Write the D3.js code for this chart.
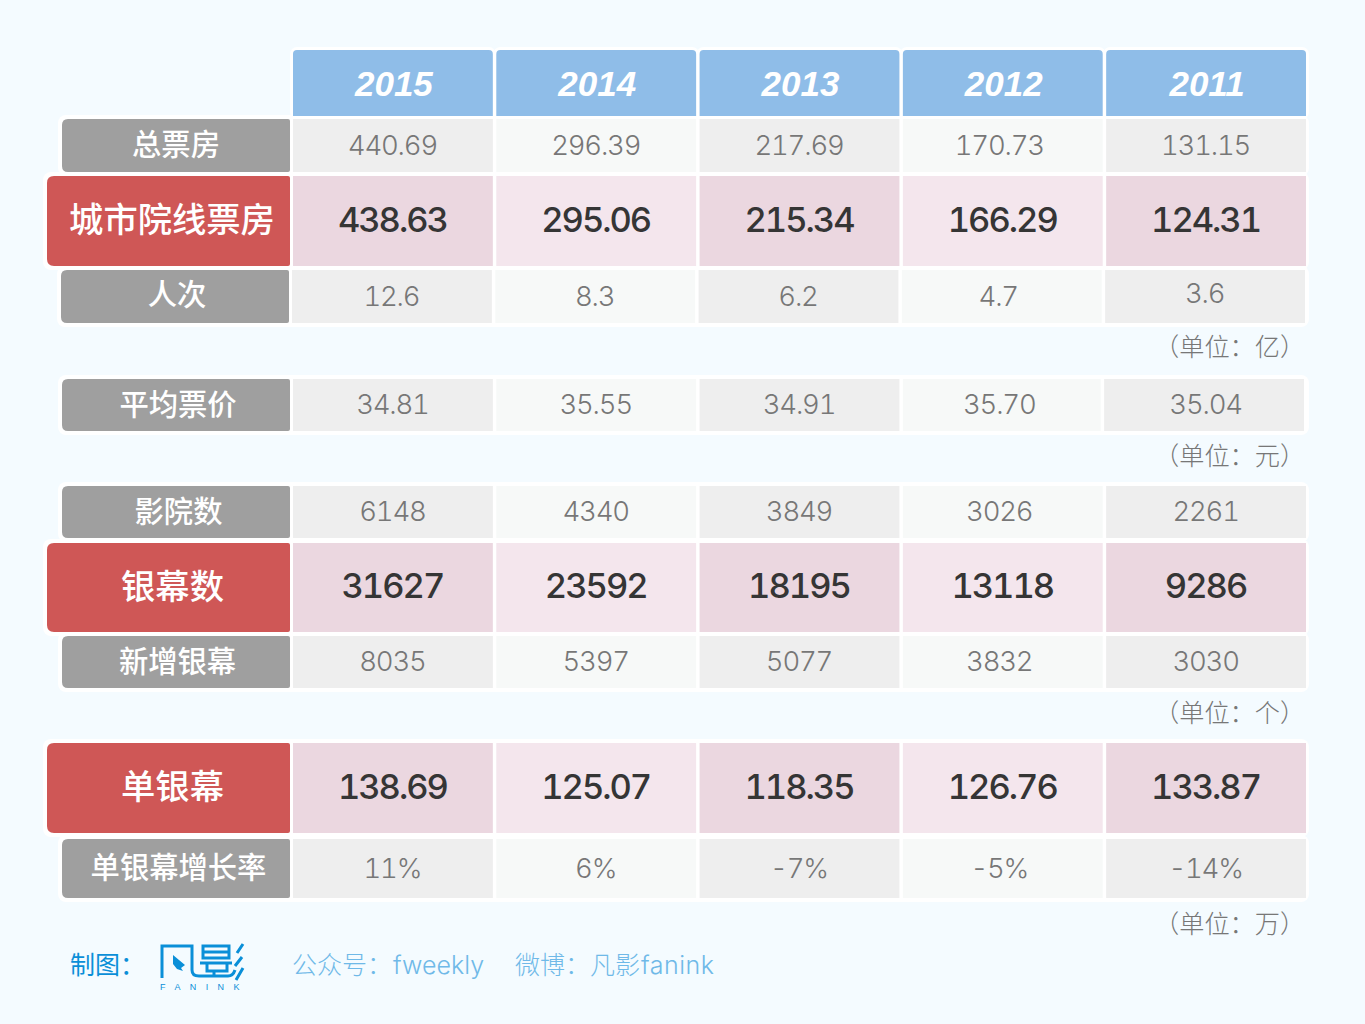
<!DOCTYPE html>
<html>
<head>
<meta charset="utf-8">
<script src="https://cdn.jsdelivr.net/npm/d3@7"></script>
<style>
  html, body { margin: 0; padding: 0; background: #f4fbff; }
  svg { display: block; }
</style>
</head>
<body>
<div id="chart"></div>
<script>
const years = ["2015", "2014", "2013", "2012", "2011"];

const boxOffice = [440.69, 296.39, 217.69, 170.73, 131.15];
const cityBoxOffice = [438.63, 295.06, 215.34, 166.29, 124.31];
const admissions = [12.6, 8.3, 6.2, 4.7, 3.6];
const avgPrice = [34.81, 35.55, 34.91, 35.70, 35.04];
const cinemas = [6148, 4340, 3849, 3026, 2261];
const screens = [31627, 23592, 18195, 13118, 9286];
const newScreens = [8035, 5397, 5077, 3832, 3030];
const perScreen = [138.69, 125.07, 118.35, 126.76, 133.87];
const perScreenGrowth = [11, 6, -7, -5, -14];

const unitNotes = ["（单位：亿）", "（单位：元）", "（单位：个）", "（单位：万）"];

const fmt2 = d3.format(".2f"), fmt1 = d3.format(".1f"), fmtInt = d3.format("d");
const fmtPct = v => v + "%";

// rows are hand laid out in the original, so top / height / nudges live here
const rows = [
  { name: "总票房", values: boxOffice, f: fmt2, top: 119, h: 53, lx: 176 },
  { name: "城市院线票房", values: cityBoxOffice, f: fmt2, top: 176, h: 90, big: true, lx: 172 },
  { name: "人次", values: admissions, f: fmt1, top: 270, h: 53, dx: -1, lx: 177, ly: -1, nudgeY: [0, 0, 0, 0, -3] },
  { name: "平均票价", values: avgPrice, f: fmt2, top: 379, h: 52, lx: 178, cellDx: [0, 0, 0, 0, -2], cellDw: [0, 0, 0, -2, 0] },
  { name: "影院数", values: cinemas, f: fmtInt, top: 486, h: 52, lx: 178.5 },
  { name: "银幕数", values: screens, f: fmtInt, top: 543, h: 89, big: true, lx: 172.5 },
  { name: "新增银幕", values: newScreens, f: fmtInt, top: 636, h: 52, lx: 177.5 },
  { name: "单银幕", values: perScreen, f: fmt2, top: 743, h: 90, big: true, lx: 172.5 },
  { name: "单银幕增长率", values: perScreenGrowth, f: fmtPct, top: 839, h: 59, lx: 178.5 }
];

const cjk = '"Noto Sans CJK SC", sans-serif';
const latin = 'Inter, "Noto Sans CJK SC", sans-serif';

const svg = d3.select("#chart").append("svg")
  .attr("width", 1365)
  .attr("height", 1024);

svg.append("rect").attr("width", 1365).attr("height", 1024).attr("fill", "#f4fbff");

const x = d3.scaleBand()
  .domain(years)
  .range([293, 1306])
  .paddingInner(0.017);

// grey numbers in the 2012 column sit a bit left of the cell centre
const greyNudgeX = { "2012": -3 };

// left side rounded, right side nearly square
function labelPath(x0, x1, y0, y1, r) {
  const s = 2;
  return `M${x0 + r},${y0}H${x1 - s}Q${x1},${y0} ${x1},${y0 + s}V${y1 - s}Q${x1},${y1} ${x1 - s},${y1}` +
    `H${x0 + r}Q${x0},${y1} ${x0},${y1 - r}V${y0 + r}Q${x0},${y0} ${x0 + r},${y0}Z`;
}

// white outlines behind the blocks
const white = svg.append("g").attr("fill", "#fff");
white.selectAll("rect.h")
  .data(years)
  .join("rect")
  .attr("x", d => x(d) - 3)
  .attr("y", 47)
  .attr("width", x.bandwidth() + 6)
  .attr("height", 72)
  .attr("rx", 7);
white.selectAll("rect.r")
  .data(rows, d => d.name)
  .join("rect")
  .attr("x", d => (d.big ? 47 : 62) - 4 + (d.dx || 0))
  .attr("y", d => d.top - 4)
  .attr("width", d => 1309 - (d.big ? 47 : 62) + 4 - (d.dx || 0))
  .attr("height", d => d.h + 8)
  .attr("rx", 8);

// year header
const head = svg.append("g");
head.selectAll("path")
  .data(years)
  .join("path")
  .attr("fill", "#8fbde8")
  .attr("d", d => {
    const l = x(d), r = l + x.bandwidth();
    return `M${l},116V54Q${l},50 ${l + 4},50H${r - 4}Q${r},50 ${r},54V116Z`;
  });
head.selectAll("text")
  .data(years)
  .join("text")
  .attr("x", d => x(d) + x.bandwidth() / 2 + 1)
  .attr("y", 96)
  .attr("text-anchor", "middle")
  .attr("fill", "#fff")
  .style("font", 'italic bold 35px "Liberation Sans", sans-serif')
  .text(d => d);

// rows
const row = svg.append("g").selectAll("g")
  .data(rows)
  .join("g")
  .attr("transform", d => `translate(${d.dx || 0},${d.top})`);

row.append("path")
  .attr("fill", d => d.big ? "#cf5756" : "#9f9f9f")
  .attr("d", d => labelPath(d.big ? 47 : 62, 290, 0, d.h, d.big ? 7 : 6));

row.append("text")
  .attr("x", d => d.lx - (d.dx || 0))
  .attr("y", d => d.h / 2 + (d.ly || 0) - 1)
  .attr("dy", "0.36em")
  .attr("text-anchor", "middle")
  .attr("fill", "#fff")
  .style("font-family", cjk)
  .style("font-weight", 500)
  .style("font-size", d => d.big ? "34.3px" : "29.3px")
  .text(d => d.name);

const cellData = d => d.values.map((v, i) => ({ v, i, year: years[i], row: d }));

row.selectAll("rect")
  .data(cellData)
  .join("rect")
  .attr("x", d => x(d.year) + (d.row.cellDx ? d.row.cellDx[d.i] : 0))
  .attr("y", 0)
  .attr("width", d => x.bandwidth() + (d.row.cellDw ? d.row.cellDw[d.i] : 0))
  .attr("height", d => d.row.h)
  .attr("fill", d => d.row.big
    ? (d.i % 2 ? "#f4e6ed" : "#ebd7e0")
    : (d.i % 2 ? "#f7f9f8" : "#eeeeee"));

row.selectAll("text.val")
  .data(cellData)
  .join("text")
  .attr("class", "val")
  .attr("x", d => x(d.year) + x.bandwidth() / 2 - 0.5 + (d.row.big ? 0 : (greyNudgeX[d.year] || 0)))
  .attr("y", d => d.row.h / 2 + (d.row.big ? -1.5 : -0.5) + (d.row.nudgeY ? d.row.nudgeY[d.i] : 0))
  .attr("dy", "0.36em")
  .attr("text-anchor", "middle")
  .attr("fill", d => d.row.big ? "#353535" : "#777")
  .style("font-family", latin)
  .style("font-variant-numeric", "tabular-nums")
  .style("font-weight", d => d.row.big ? 500 : 300)
  .style("font-size", d => d.row.big ? "34.5px" : "27.5px")
  .style("letter-spacing", d => d.row.big ? "-2px" : "-1.2px")
  .text(d => d.row.f(d.v));

// unit notes under the blocks
const noteY = [356, 465, 722, 933];
svg.append("g").selectAll("text")
  .data(unitNotes)
  .join("text")
  .attr("x", 1154)
  .attr("y", (d, i) => noteY[i])
  .attr("fill", "#777")
  .style("font-family", cjk)
  .style("font-weight", 300)
  .style("font-size", "25.2px")
  .text(d => d);

// footer
const footer = svg.append("g")
  .style("font-family", latin)
  .style("font-weight", 300)
  .style("font-size", "25px");
footer.append("text").attr("x", 70).attr("y", 974).attr("fill", "#0a8fd8").style("font-weight", 400).text("制图：");
footer.append("text").attr("x", 292).attr("y", 974).attr("fill", "#6fb9e8").text("公众号：");
footer.append("text").attr("x", 393).attr("y", 974).attr("fill", "#6fb9e8").text("fweekly");
footer.append("text").attr("x", 515).attr("y", 974).attr("fill", "#6fb9e8").text("微博：凡影");
footer.append("text").attr("x", 641).attr("y", 974).attr("fill", "#6fb9e8").style("letter-spacing", "0.5px").text("fanink");

// logo
const logo = svg.append("g")
  .attr("fill", "none")
  .attr("stroke", "#0a8fd8")
  .attr("stroke-width", 3);
logo.append("path").attr("d", "M162,978V946H192V970Q192,976 199,976H204");
logo.append("path").attr("d", "M203,946H229V958H203ZM203,952H229M200,963H232M207,963V971H227V963");
logo.append("path").attr("d", "M204,976H228Q233,976 235,970");
logo.append("path").attr("d", "M214,971V976M243,944L237,953M242,957L235,966M243,968L236,980");
logo.append("path").attr("fill", "#0a8fd8").attr("stroke", "none").attr("d", "M173,955L185,965L181,968L183,971L177,969L173,964Z");
svg.append("text")
  .attr("x", 160)
  .attr("y", 990)
  .attr("fill", "#0a8fd8")
  .style("font", '9px "Liberation Sans", sans-serif')
  .style("letter-spacing", "9.4px")
  .text("FANINK");
</script>
</body>
</html>
